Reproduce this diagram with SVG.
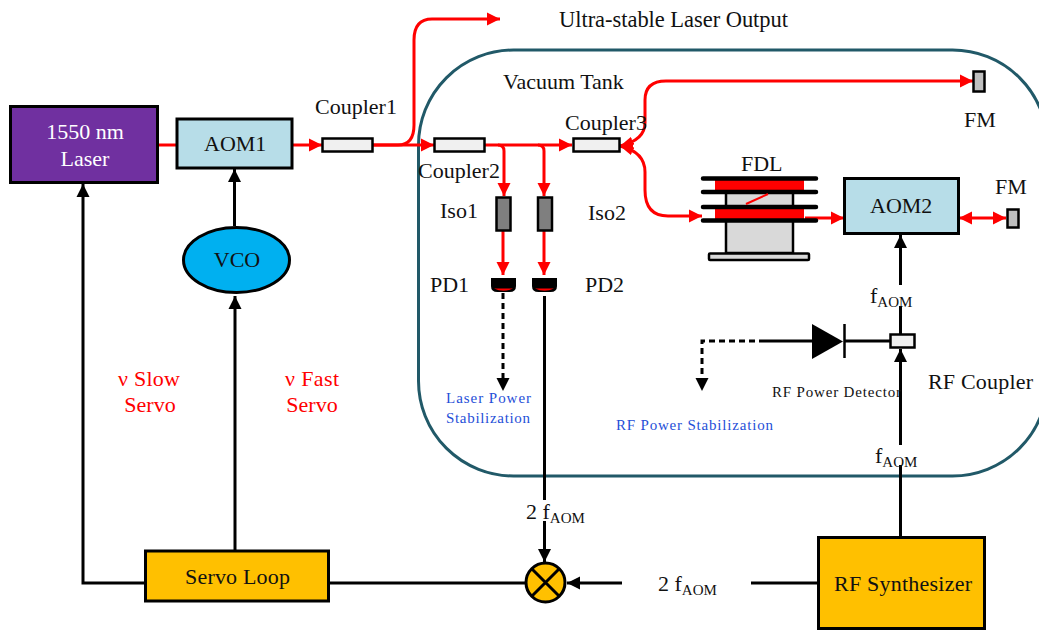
<svg xmlns="http://www.w3.org/2000/svg" width="1039" height="631" viewBox="0 0 1039 631">
<style>
text{font-family:"Liberation Serif","Times New Roman",serif;fill:#111;font-size:22px}
.m{text-anchor:middle}
.r{fill:#f00}
.w{fill:#fff}
.b{fill:#1f4fd8;font-size:15px}
.s{font-size:15px}
.box{stroke:#000;stroke-width:3}
.blk{fill:none;stroke:#000;stroke-width:3}
.red{fill:none;stroke:#f00;stroke-width:3}
.dash{fill:none;stroke:#000;stroke-width:3;stroke-dasharray:6 4}
.coup{fill:#f0f0f0;stroke:#000;stroke-width:2.5}
.gray{fill:#7f7f7f;stroke:#000;stroke-width:2.5}
.fm{fill:#bfbfbf;stroke:#000;stroke-width:2.5}
.plate{fill:none;stroke:#000;stroke-width:4.500;stroke-linecap:round}
</style>
<defs>
<marker id="ar" markerUnits="userSpaceOnUse" markerWidth="16" markerHeight="16" refX="13" refY="8" orient="auto-start-reverse"><path d="M0 1.500L13 8L0 14.500Z" fill="#f00"/></marker>
<marker id="ak" markerUnits="userSpaceOnUse" markerWidth="16" markerHeight="16" refX="13" refY="8" orient="auto"><path d="M0 1.500L13 8L0 14.500Z" fill="#000"/></marker>
<path id="pd" d="M-12.500 -7H12.500V1Q12.500 7 6 7H-6Q-12.500 7 -12.500 1Z" fill="#000"/>
</defs>
<g id="vacuum-tank"><rect x="418.500" y="50" width="629" height="426" rx="95" fill="none" stroke="#215968" stroke-width="3"/><text x="503" y="89">Vacuum Tank</text></g>
<g id="connectors">
<path class="red" d="M159 145H176"/>
<path class="red" d="M293 145H322" marker-end="url(#ar)"/>
<path class="red" d="M373 145H398Q414 145 414 125V40Q414 19 432 19H500" marker-end="url(#ar)"/>
<path class="red" d="M373 145H434" marker-end="url(#ar)"/>
<path class="red" d="M485 145H572" marker-end="url(#ar)"/>
<path class="red" d="M498 145Q504 145 504 151V196" marker-end="url(#ar)"/>
<path class="red" d="M538 145Q544 145 544 151V196" marker-end="url(#ar)"/>
<path class="red" d="M503 231V275" marker-end="url(#ar)"/>
<path class="red" d="M544 231V275" marker-end="url(#ar)"/>
<path class="red" d="M666 81Q645 81 645 100V123Q645 140 620 146" marker-end="url(#ar)"/>
<path class="red" d="M666 81H973" marker-end="url(#ar)"/>
<path class="red" d="M620 146Q645 152 645 172V190Q645 216 668 216H702" marker-start="url(#ar)" marker-end="url(#ar)"/>
<path class="red" d="M805 218H844" marker-end="url(#ar)"/>
<path class="red" d="M959 218H1006" marker-start="url(#ar)" marker-end="url(#ar)"/>
<path class="blk" d="M145 583H83V184" marker-end="url(#ak)"/>
<path class="blk" d="M235 550V296" marker-end="url(#ak)"/>
<path class="blk" d="M234.500 226V169" marker-end="url(#ak)"/>
<path class="blk" d="M329 583H526"/>
<path class="blk" d="M544.500 296V500"/>
<path class="blk" d="M544.500 521V562" marker-end="url(#ak)"/>
<path class="blk" d="M622 583H567" marker-end="url(#ak)"/>
<path class="blk" d="M751 583H817"/>
<path class="blk" d="M900.500 537V465"/>
<path class="blk" d="M900.500 445V349" marker-end="url(#ak)"/>
<path class="blk" d="M900.500 334V306"/>
<path class="blk" d="M900.500 285V235" marker-end="url(#ak)"/>
<path class="blk" d="M844 341H890"/>
<path class="blk" d="M765 341H812"/>
<path class="dash" d="M765 341H702V378"/>
<path d="M695.500 378L702 391L708.500 378Z" fill="#000"/>
<path class="dash" d="M503 293V378"/>
<path d="M496.500 378L503 391L509.500 378Z" fill="#000"/>
</g>
<g id="laser"><rect class="box" x="10.500" y="106.500" width="147" height="76" fill="#7030a0"/><text class="m w" x="85" y="139">1550 nm</text><text class="m w" x="85" y="166">Laser</text></g>
<g id="aom1"><rect class="box" x="177" y="119" width="115" height="49" fill="#b7dde8"/><text x="204" y="151">AOM1</text></g>
<g id="vco"><ellipse class="box" cx="236.500" cy="260" rx="53" ry="32.500" fill="#00b0f0"/><text class="m" x="237" y="267">VCO</text></g>
<g id="coupler1"><rect class="coup" x="322.500" y="138.500" width="50" height="13"/><text x="315" y="114">Coupler1</text></g>
<g id="coupler2"><rect class="coup" x="434.500" y="138.500" width="50" height="13"/><text x="418" y="178">Coupler2</text></g>
<g id="coupler3"><rect class="coup" x="573.500" y="138.500" width="46" height="13"/><text x="565" y="130">Coupler3</text></g>
<g id="iso1"><rect class="gray" x="496.500" y="197.500" width="14" height="33"/><text x="440" y="218">Iso1</text></g>
<g id="iso2"><rect class="gray" x="538" y="197.500" width="14" height="33"/><text x="588" y="220">Iso2</text></g>
<g id="pd1"><use href="#pd" x="503.500" y="285"/><path d="M494 288.500H513Q503.500 293 494 288.500Z" fill="#f00"/><text x="430" y="292">PD1</text></g>
<g id="pd2"><use href="#pd" x="544.500" y="285"/><path d="M535 288.500H554Q544.500 293 535 288.500Z" fill="#f00"/><text x="585" y="292">PD2</text></g>
<g id="fdl">
<rect x="726" y="192" width="67" height="61" fill="#d9d9d9" stroke="#000" stroke-width="2.500"/>
<rect x="709" y="253.500" width="100" height="6.500" rx="1" fill="#d9d9d9" stroke="#000" stroke-width="2.500"/>
<rect x="715" y="180" width="89" height="11" fill="#f00"/>
<rect x="715" y="209" width="89" height="10" fill="#f00"/>
<path class="plate" d="M703 178.500H816M703 192H816M703 207H816M703 220.500H816"/>
<path d="M746 204L768 194" stroke="#f00" stroke-width="2" fill="none"/>
<text x="741" y="171">FDL</text>
</g>
<g id="fm1"><rect class="fm" x="973.500" y="71.500" width="11" height="20"/><text x="964" y="127">FM</text></g>
<g id="fm2"><rect class="fm" x="1007.500" y="209.500" width="11" height="18"/><text x="995" y="194">FM</text></g>
<g id="aom2"><rect class="box" x="844.500" y="178.500" width="114" height="55" fill="#b7dde8"/><text x="870" y="213">AOM2</text></g>
<g id="rf-coupler"><rect class="coup" x="890.500" y="334.500" width="24" height="13"/><text x="928" y="389" textLength="105">RF Coupler</text></g>
<g id="rf-detector"><path d="M812 324V359L843 341.500Z" fill="#000"/><path d="M844.500 324V358" stroke="#000" stroke-width="2.500"/><text class="s" x="772" y="397" textLength="129">RF Power Detector</text></g>
<g id="mixer"><circle cx="545.500" cy="582.500" r="19.500" fill="#ffc000" stroke="#000" stroke-width="3"/><path d="M532 569L559 596M559 569L532 596" stroke="#000" stroke-width="3"/></g>
<g id="servo-loop"><rect class="box" x="145.500" y="551" width="183" height="50" fill="#ffc000"/><text x="185" y="584" textLength="105">Servo Loop</text></g>
<g id="rf-synth"><rect class="box" x="818.500" y="537.500" width="166" height="91" fill="#ffc000"/><text x="834" y="591" textLength="138">RF Synthesizer</text></g>
<g id="labels">
<text x="559" y="27" textLength="229" style="font-size:22.500px">Ultra-stable Laser Output</text>
<text class="b" x="446" y="403" textLength="85">Laser Power</text>
<text class="b" x="446" y="423" textLength="84">Stabilization</text>
<text class="b" x="616" y="430" textLength="157">RF Power Stabilization</text>
<text class="r" x="118" y="386" textLength="62">ν Slow</text><text class="r m" x="150" y="412">Servo</text>
<text class="r" x="285" y="386" textLength="54">ν Fast</text><text class="r m" x="312" y="412">Servo</text>
<text x="870" y="303">f<tspan class="s" dy="4">AOM</tspan></text>
<text x="875" y="463">f<tspan class="s" dy="4">AOM</tspan></text>
<text x="526" y="519">2 f<tspan class="s" dy="4">AOM</tspan></text>
<text x="658" y="591">2 f<tspan class="s" dy="4">AOM</tspan></text>
</g>
</svg>
